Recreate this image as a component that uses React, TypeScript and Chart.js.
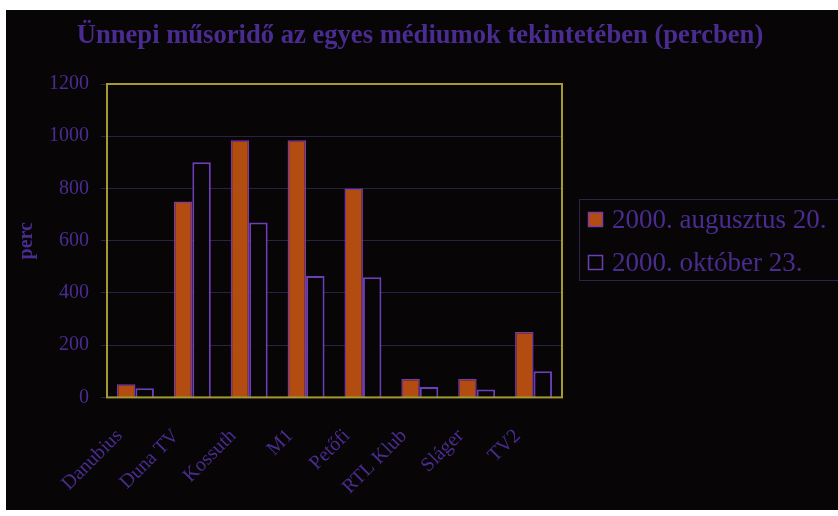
import { useEffect, useRef } from 'react';
import { Chart, registerables } from 'chart.js';

Chart.register(...registerables);

const categories = ['Danubius', 'Duna TV', 'Kossuth', 'M1', 'Petőfi', 'RTL Klub', 'Sláger', 'TV2'];
const seriesNames = ['2000. augusztus 20.', '2000. október 23.'];
const augValues = [50, 750, 985, 985, 800, 70, 70, 250];
const octValues = [35, 900, 670, 465, 460, 40, 30, 100];
const yMin = 0;
const yMax = 1200;
const yStep = 200;
const titleText = 'Ünnepi műsoridő az egyes médiumok tekintetében (percben)';
const yTitle = 'perc';

const FONT = "'Liberation Serif', 'Times New Roman', serif";
const TEXT = '#4a2c90';
const BG = '#070506';
const GRID = '#2a2244';
const FRAME = '#a49a30';
const ORANGE = '#b24c10';
const PURPLE = '#6c3fb8';

const W = 832;
const H = 500;

const titlePlugin = {
  id: 'customTitle',
  afterDraw(chart: any) {
    const { ctx } = chart;
    ctx.save();
    ctx.fillStyle = TEXT;
    ctx.font = `bold 26.6px ${FONT}`;
    ctx.textAlign = 'center';
    ctx.textBaseline = 'middle';
    ctx.fillText(titleText, 414, 26);
    ctx.restore();
  },
};

const framePlugin = {
  id: 'frame',
  afterDatasetsDraw(chart: any) {
    const { ctx, chartArea: a } = chart;
    ctx.save();
    ctx.strokeStyle = FRAME;
    ctx.lineWidth = 2;
    ctx.strokeRect(a.left, a.top, a.right - a.left, a.bottom - a.top);
    ctx.restore();
  },
};

const legendPlugin = {
  id: 'customLegend',
  afterDraw(chart: any) {
    const { ctx } = chart;
    ctx.save();
    ctx.strokeStyle = '#2a2250';
    ctx.lineWidth = 1;
    ctx.strokeRect(573.5, 189.5, 300, 81);
    const rows = [210, 253];
    chart.data.datasets.forEach((ds: any, i: number) => {
      const cy = rows[i];
      ctx.fillStyle = ds.backgroundColor;
      ctx.fillRect(582, cy - 8, 15, 15);
      ctx.strokeStyle = ds.borderColor;
      ctx.lineWidth = 1.5;
      ctx.strokeRect(582.5, cy - 7.5, 14, 14);
      ctx.fillStyle = TEXT;
      ctx.font = `27px ${FONT}`;
      ctx.textBaseline = 'middle';
      ctx.textAlign = 'left';
      ctx.fillText(ds.label, 606, cy + 1);
    });
    ctx.restore();
  },
};

export default function App() {
  const ref = useRef<HTMLCanvasElement>(null);

  useEffect(() => {
    const chart = new Chart(ref.current!, {
      type: 'bar',
      data: {
        labels: categories,
        datasets: [
          {
            label: seriesNames[0],
            data: augValues,
            backgroundColor: ORANGE,
            borderColor: '#7a3aa8',
            borderWidth: 1.5,
            categoryPercentage: 0.65,
            barPercentage: 1,
          },
          {
            label: seriesNames[1],
            data: octValues,
            backgroundColor: BG,
            borderColor: PURPLE,
            borderWidth: 2,
            categoryPercentage: 0.65,
            barPercentage: 1,
          },
        ],
      },
      options: {
        animation: false,
        responsive: false,
        maintainAspectRatio: false,
        layout: { padding: { left: 0, right: W - 556, top: 74, bottom: 0 } },
        plugins: {
          legend: { display: false },
          tooltip: { enabled: false },
          title: { display: false },
        },
        scales: {
          x: {
            grid: { display: false, drawTicks: false },
            border: { display: false },
            ticks: {
              color: TEXT,
              font: { family: FONT, size: 20 },
              minRotation: 45,
              maxRotation: 45,
              padding: 27,
              labelOffset: -16,
              autoSkip: false,
            },
            afterFit: (s: any) => {
              s.height = H - 387.4;
            },
          },
          y: {
            min: yMin,
            max: yMax,
            ticks: {
              stepSize: yStep,
              color: TEXT,
              font: { family: FONT, size: 20 },
              padding: 12,
              callback: (v: any) => String(v),
            },
            grid: { color: GRID, tickColor: GRID, tickLength: 6, lineWidth: 1 },
            border: { display: false },
            title: {
              display: true,
              text: yTitle,
              color: TEXT,
              font: { family: FONT, size: 20, weight: 'bold' },
              padding: { top: 9, bottom: 0 },
            },
            afterFit: (s: any) => {
              s.width = 101;
            },
          },
        },
      },
      plugins: [titlePlugin, framePlugin, legendPlugin],
    } as any);
    return () => chart.destroy();
  }, []);

  return (
    <div
      style={{
        position: 'absolute',
        left: 6,
        top: 10,
        width: W,
        height: H,
        background: BG,
      }}
    >
      <canvas ref={ref} width={W} height={H} style={{ display: 'block', width: W, height: H }} />
    </div>
  );
}
